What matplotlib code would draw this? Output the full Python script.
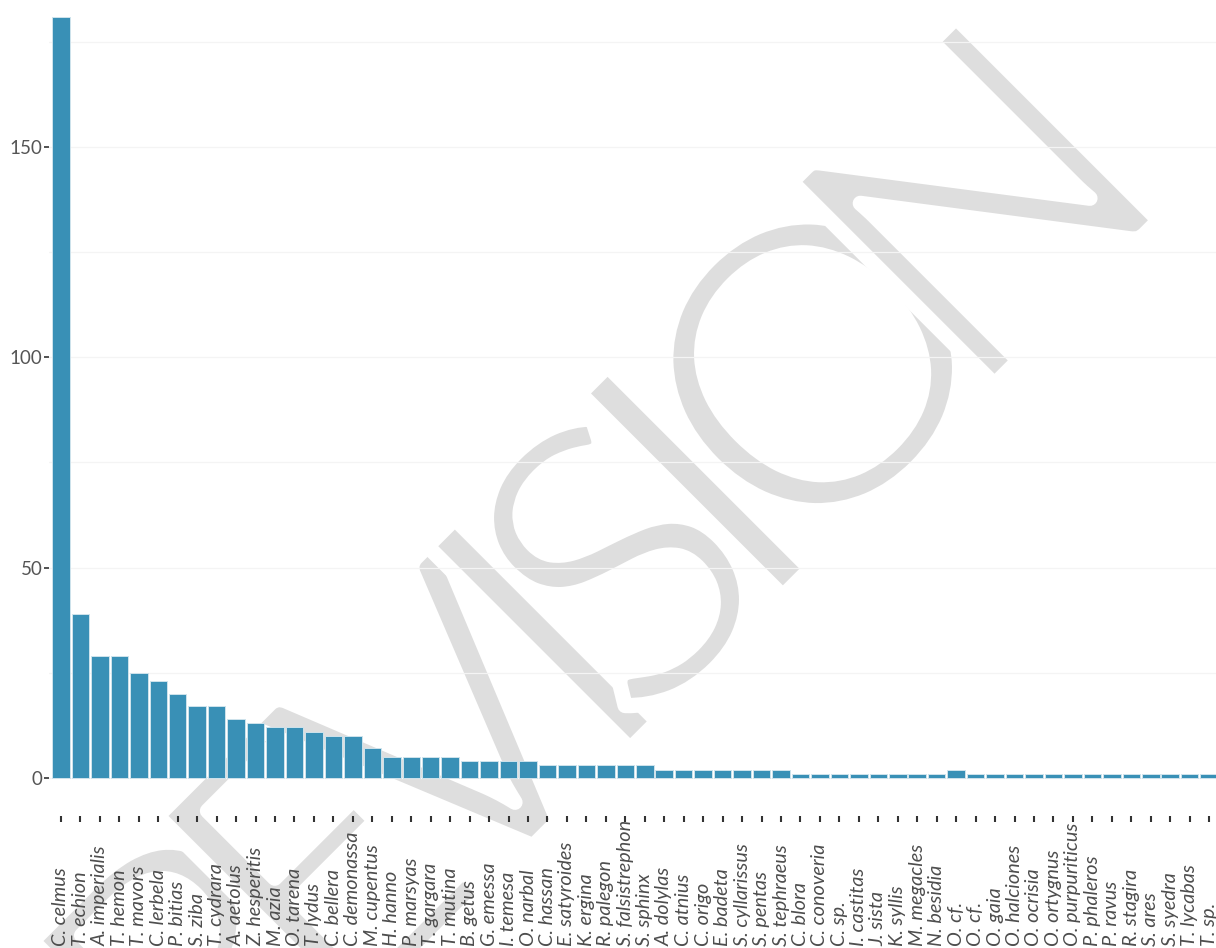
import matplotlib
matplotlib.use("Agg")
import matplotlib.pyplot as plt
import matplotlib.patheffects as pe
from matplotlib.transforms import blended_transform_factory
from matplotlib.ticker import MultipleLocator
import numpy as np

species = ["C. celmus", "T. echion", "A. imperialis", "T. hemon", "T. mavors", "C. lerbela",
           "P. bitias", "S. ziba", "T. cydrara", "A. aetolus", "Z. hesperitis", "M. azia",
           "O. tarena", "T. lydus", "C. bellera", "C. demonassa", "M. cupentus", "H. hanno",
           "P. marsyas", "T. gargara", "T. mutina", "B. getus", "G. emessa", "I. temesa",
           "O. narbal", "C. hassan", "E. satyroides", "K. ergina", "R. palegon",
           "S. falsistrephon", "S. sphinx", "A. dolylas", "C. atnius", "C. origo", "E. badeta",
           "S. cyllarissus", "S. pentas", "S. tephraeus", "C. blora", "C. conoveria", "C. sp.",
           "I. castitas", "J. sista", "K. syllis", "M. megacles", "N. besidia", "O. cf.",
           "O. cf.", "O. gaia", "O. halciones", "O. ocrisia", "O. ortygnus", "O. purpuriticus",
           "P. phaleros", "P. ravus", "R. stagira", "S. ares", "S. syedra", "T. lycabas", "T. sp."]
counts = [181, 39, 29, 29, 25, 23, 20, 17, 17, 14, 13, 12, 12, 11, 10, 10, 7, 5, 5, 5, 5,
          4, 4, 4, 4, 3, 3, 3, 3, 3, 3, 2, 2, 2, 2, 2, 2, 2, 1, 1, 1, 1, 1, 1, 1, 1, 2,
          1, 1, 1, 1, 1, 1, 1, 1, 1, 1, 1, 1, 1]
y_ticks = [0, 50, 100, 150]
watermark = "REVISION"

W, H = 1216, 948
fig = plt.figure(figsize=(W / 100, H / 100), dpi=100)
fig.patch.set_facecolor("white")

# Watermark letters placed along a 45 degree baseline
wm_s = [-555, -388, -205, -66, 37, 150, 316, 546]
thin = [pe.Stroke(linewidth=11, foreground="white")]
for ch, s in zip(watermark, wm_s):
    px = (1369 + 1.4142 * s) / 2 + 6
    py = (1369 - 1.4142 * s) / 2 + 4
    fig.text(px / W, 1 - py / H, ch, rotation=45, rotation_mode="anchor",
             ha="center", va="baseline", fontsize=288, color="#dedede",
             family="Lato", weight="normal", zorder=-5, path_effects=thin)

left_px, bottom_px = 49.3, 816
ax_w = 1171.5
ax_h = 837.5
ax = fig.add_axes([left_px / W, (H - bottom_px) / H, ax_w / W, ax_h / H])
ax.set_facecolor("none")

x = np.arange(len(species))
ax.bar(x, counts, width=0.9, color="#3990b6", edgecolor="#cfe3ec", linewidth=0.7, zorder=3)

ax.set_xlim(-0.6, len(species) - 0.4)
ax.set_ylim(-9.05, 190.05)

ax.set_yticks(y_ticks)
ax.set_yticklabels([str(v) for v in y_ticks])
ax.yaxis.set_minor_locator(MultipleLocator(25))
ax.grid(True, which="both", axis="y", color="#f4f4f4", linewidth=0.9, zorder=0)
ax.set_axisbelow(True)

for sp in ax.spines.values():
    sp.set_visible(False)

ax.set_xticks(x)
ax.set_xticklabels([""] * len(x))
ax.tick_params(axis="x", length=4.3, width=1.5, color="#333333", direction="out")
ax.tick_params(axis="y", which="major", length=3.5, width=1.2, color="#333333",
               pad=1.5, labelsize=13.5, labelcolor="#555555")
ax.tick_params(axis="y", which="minor", length=0)
for lab in ax.get_yticklabels():
    lab.set_family("Lato")

trans = blended_transform_factory(ax.transData, fig.transFigure)
for xi, name in zip(x, species):
    ax.text(xi, 2.5 / H, name, transform=trans, rotation=90, ha="center", va="bottom",
            fontsize=14.3, color="#4d4d4d", family="Lato", style="italic", clip_on=False)

fig.savefig("out.png", dpi=100)
